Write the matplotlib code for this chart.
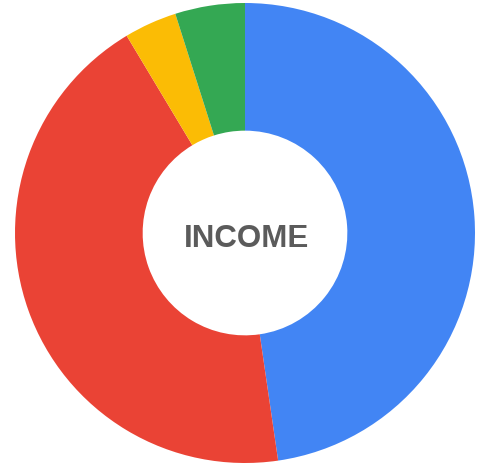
import matplotlib.pyplot as plt

labels = ["Blue", "Red", "Yellow", "Green"]
shares = [47.7, 43.7, 3.7, 4.9]
colors = ["#4285F4", "#EA4335", "#FBBC05", "#34A853"]
center_label = "INCOME"

fig = plt.figure(figsize=(4.79, 4.64), dpi=100)
ax = fig.add_axes([0, 0, 1, 1])

ax.pie(
    shares,
    colors=colors,
    startangle=90,
    counterclock=False,
    radius=1.0,
    wedgeprops=dict(width=0.555, linewidth=0),
)

ax.text(0.005, -0.02, center_label, ha="center", va="center",
        fontsize=22.5, fontweight="bold", color="#5b5b5b",
        family=["Liberation Sans", "DejaVu Sans"])

scale = 230.0
ax.set_xlim(-245 / scale, (479 - 245) / scale)
ax.set_ylim(-(464 - 234) / scale, 234 / scale)
ax.set_aspect("equal")
ax.axis("off")

fig.savefig("out.png", dpi=100)
